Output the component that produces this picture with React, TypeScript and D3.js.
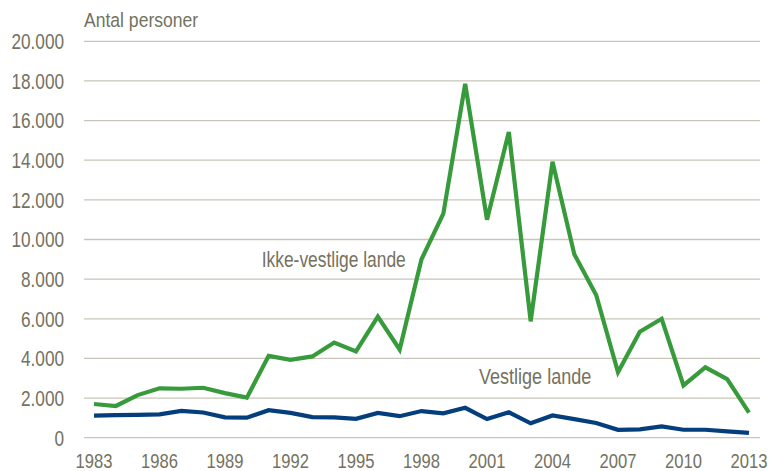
import { useEffect, useRef } from "react";
import * as d3 from "d3";

const years = d3.range(1983, 2014);

// Ikke-vestlige lande
const nonWestern = [
  1700, 1600, 2150, 2490, 2470, 2520, 2250, 2020, 4130, 3930, 4100, 4800,
  4350, 6110, 4450, 9000, 11300, 17850, 11000, 15420, 5870, 13920, 9250,
  7200, 3300, 5350, 6000, 2640, 3550, 2960, 1270,
];

// Vestlige lande
const western = [
  1110, 1140, 1150, 1180, 1350, 1270, 1030, 1010, 1390, 1250, 1040, 1030,
  950, 1250, 1085, 1345, 1230, 1510, 940, 1280, 725, 1120, 940, 740, 400,
  420, 570, 400, 400, 320, 240,
];

const yTicks = [0, 2000, 4000, 6000, 8000, 10000, 12000, 14000, 16000, 18000, 20000];
const xTicks = [1983, 1986, 1989, 1992, 1995, 1998, 2001, 2004, 2007, 2010, 2013];

const TEXT_COLOR = "#74725f";
const GRID_COLOR = "#c9c6b9";
const FONT = "'Liberation Sans', Arial, sans-serif";

const App = () => {
  const ref = useRef<SVGSVGElement>(null);

  const width = 769;
  const height = 471;

  useEffect(() => {
    if (!ref.current) return;
    const svg = d3.select(ref.current);
    svg.selectAll("*").remove();

    const x = d3.scaleLinear().domain([1983, 2013]).range([94, 749]);
    const y = d3.scaleLinear().domain([0, 20000]).range([437.7, 41.3]);

    const fmt = (d: number) =>
      d === 0 ? "0" : d3.format(",")(d).replace(/,/g, ".");

    // condensed text helper
    const addText = (
      tx: number,
      ty: number,
      label: string,
      anchor: string,
      size: number,
      sx: number
    ) => {
      svg
        .append("g")
        .attr("transform", `translate(${tx},${ty}) scale(${sx},1)`)
        .append("text")
        .attr("text-anchor", anchor)
        .attr("font-family", FONT)
        .attr("font-size", size)
        .attr("fill", TEXT_COLOR)
        .text(label);
    };

    // Gridlines
    svg
      .append("g")
      .selectAll("line")
      .data(yTicks)
      .join("line")
      .attr("x1", 84)
      .attr("x2", 760)
      .attr("y1", (d) => y(d))
      .attr("y2", (d) => y(d))
      .attr("stroke", GRID_COLOR)
      .attr("stroke-width", 1.3);

    // Y labels
    yTicks.forEach((d) => addText(64, y(d) + 7.8, fmt(d), "end", 21.5, 0.8));

    // X labels
    xTicks.forEach((d) => addText(x(d), 467.5, String(d), "middle", 20.5, 0.81));

    // Title
    addText(84, 26.7, "Antal personer", "start", 19.5, 0.9);

    // Lines
    const line = d3
      .line<number>()
      .x((_, i) => x(years[i]))
      .y((d) => y(d));

    [
      { data: western, color: "#053e7d" },
      { data: nonWestern, color: "#379a3b" },
    ].forEach((s) => {
      svg
        .append("path")
        .attr("fill", "none")
        .attr("stroke", s.color)
        .attr("stroke-width", 4.2)
        .attr("stroke-linejoin", "miter")
        .attr("d", line(s.data));
    });

    // Series labels
    addText(x(1990.68), y(8600), "Ikke-vestlige lande", "start", 21.5, 0.81);
    addText(x(2000.63), y(2710), "Vestlige lande", "start", 21.5, 0.84);
  }, [height, width]);

  return (
    <svg
      ref={ref}
      width={width}
      height={height}
      viewBox={`0 0 ${width} ${height}`}
      style={{ position: "absolute", left: 0, top: 0, background: "#fff" }}
    />
  );
};

export default App;
